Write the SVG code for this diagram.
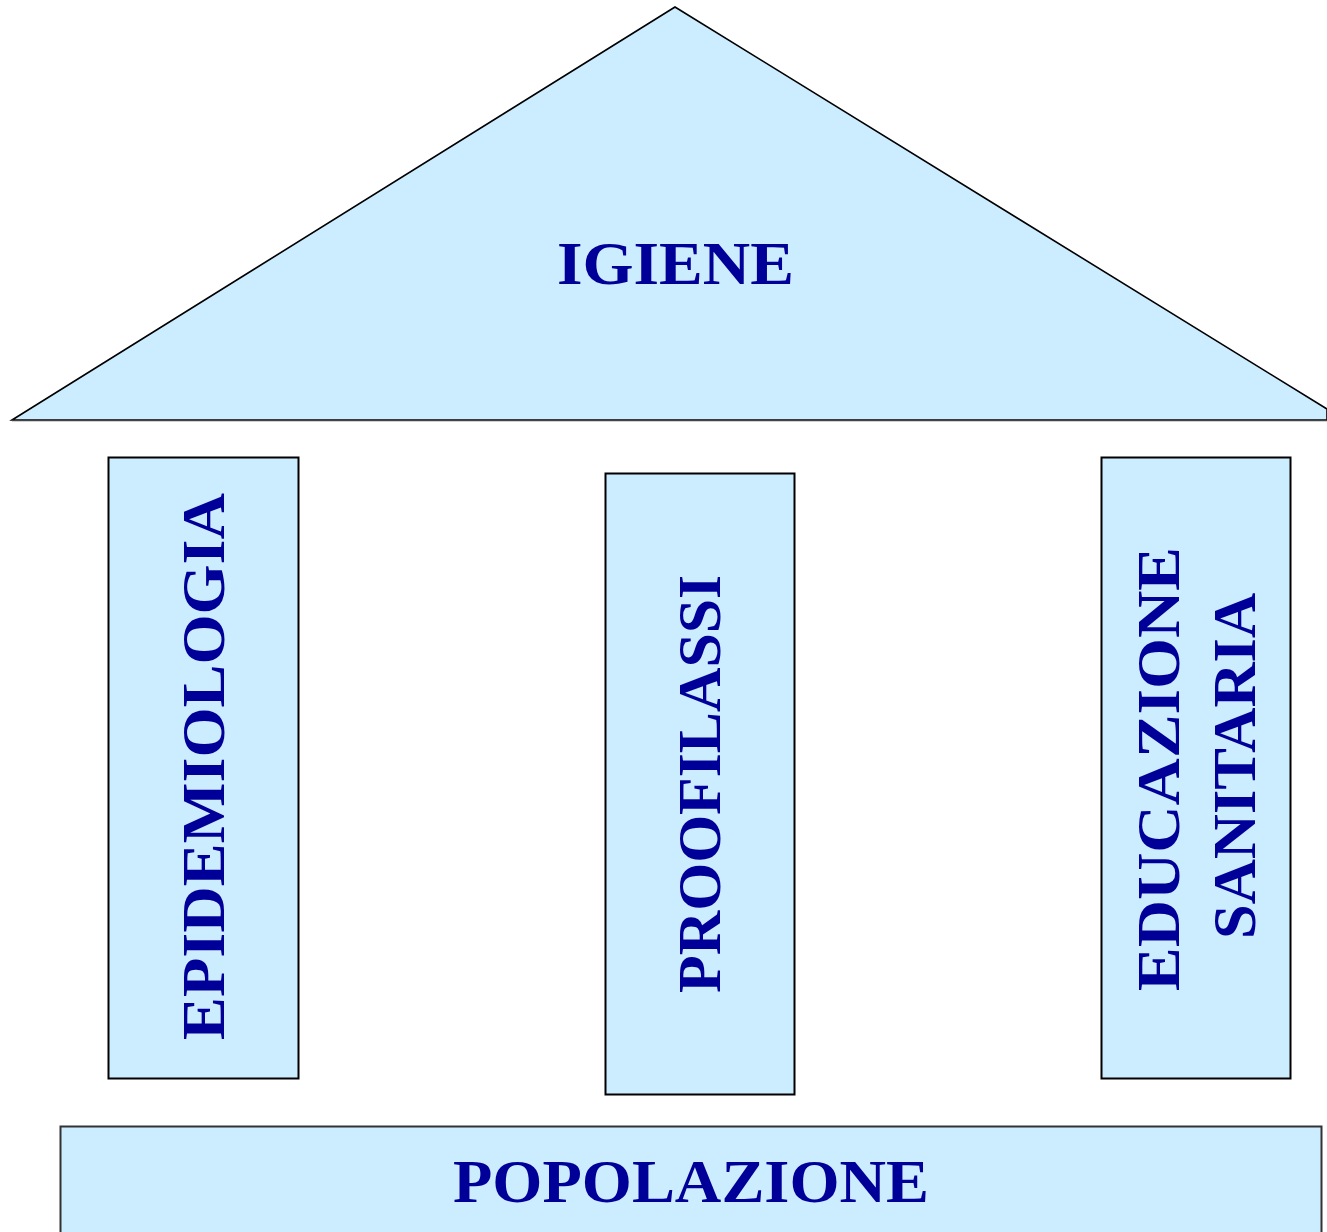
<svg xmlns="http://www.w3.org/2000/svg" width="1327" height="1232" viewBox="0 0 1327 1232">
<style>
.shape{fill:#CCECFF;stroke:#000000;stroke-width:1.6}
.col{stroke-width:2}
.lbl{font-family:"Liberation Serif","DejaVu Serif",serif;font-weight:bold;font-size:61px;fill:#000099;text-anchor:middle}
</style>
<rect width="1327" height="1232" fill="#FFFFFF"/>
<g id="roof">
<polygon class="shape" points="675,7 12,420 1327,420 1327,409" />
<line x1="12" y1="420.5" x2="1327" y2="420.5" stroke="#444444" stroke-width="1.5"/>
<text class="lbl" x="675.5" y="284" textLength="237" lengthAdjust="spacingAndGlyphs">IGIENE</text>
</g>
<g id="col-epidemiologia">
<rect class="shape col" x="108.5" y="457.5" width="190" height="621"/>
<text class="lbl" transform="translate(224,766.5) rotate(-90)" x="0" y="0" textLength="547" lengthAdjust="spacingAndGlyphs">EPIDEMIOLOGIA</text>
</g>
<g id="col-proofilassi">
<rect class="shape col" x="605.5" y="473.5" width="189" height="621"/>
<text class="lbl" transform="translate(720,784) rotate(-90)" x="0" y="0" textLength="418" lengthAdjust="spacingAndGlyphs">PROOFILASSI</text>
</g>
<g id="col-educazione">
<rect class="shape col" x="1101.5" y="457.5" width="189" height="621"/>
<text class="lbl" transform="translate(1179,769) rotate(-90)" x="0" y="0" textLength="444" lengthAdjust="spacingAndGlyphs">EDUCAZIONE</text>
<text class="lbl" transform="translate(1255,766) rotate(-90)" x="0" y="0" textLength="346" lengthAdjust="spacingAndGlyphs">SANITARIA</text>
</g>
<g id="base">
<rect class="shape" x="60.5" y="1126.5" width="1261" height="120" style="stroke:#333333;stroke-width:2"/>
<text class="lbl" x="691" y="1202" textLength="476" lengthAdjust="spacingAndGlyphs">POPOLAZIONE</text>
</g>
<g id="connectors"></g>
</svg>
